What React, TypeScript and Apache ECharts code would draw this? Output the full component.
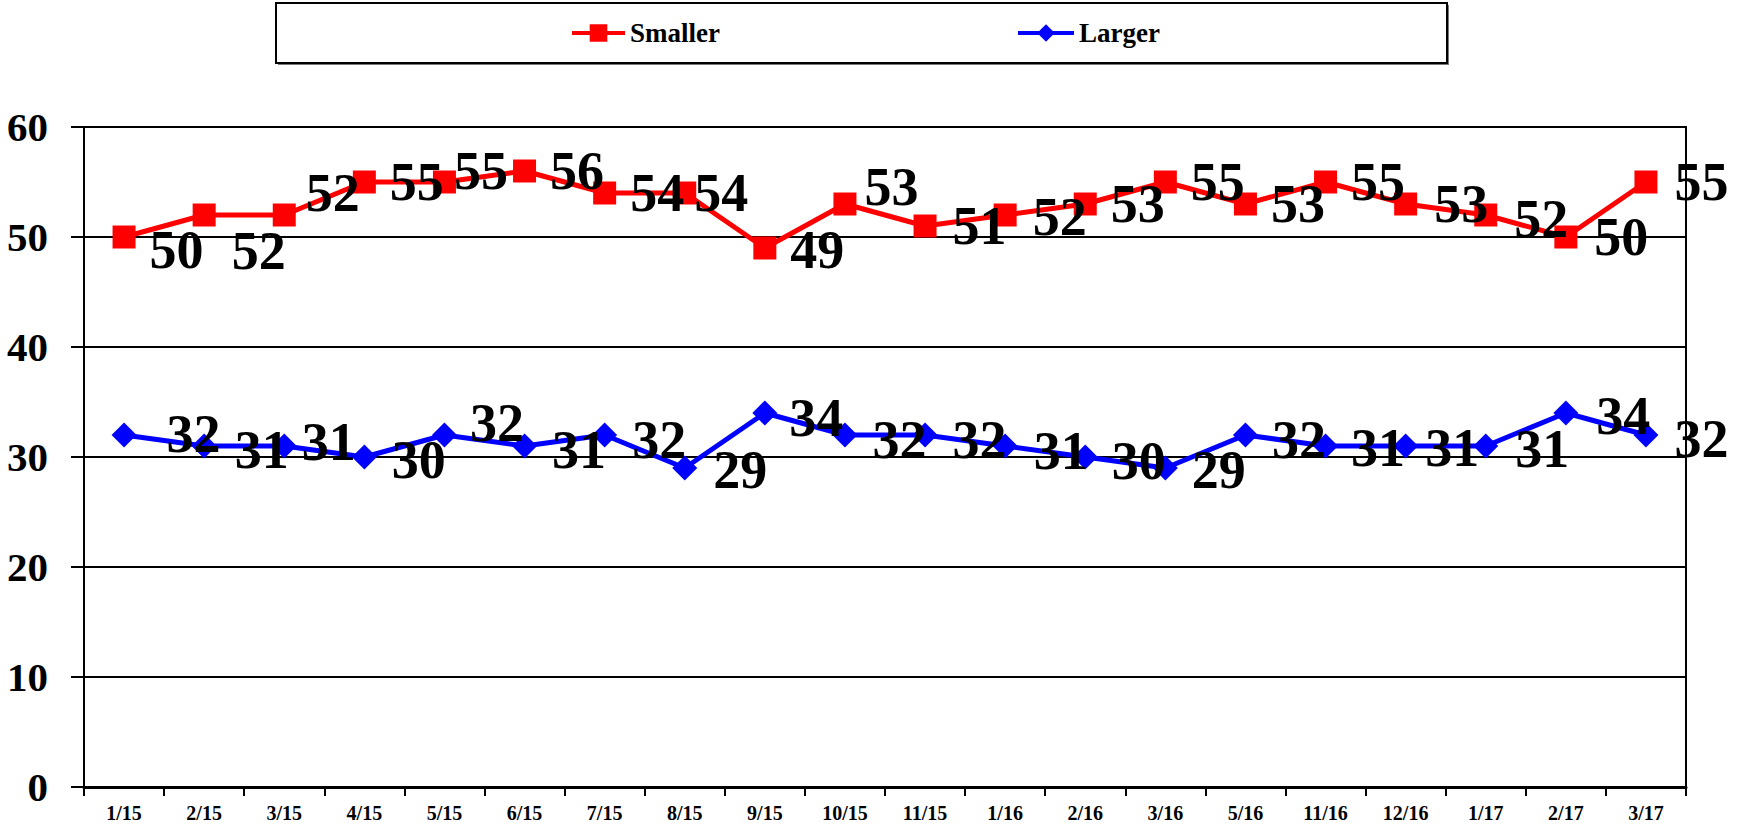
import React, { useEffect, useRef } from 'react';
import * as echarts from 'echarts';

const categories = ['1/15', '2/15', '3/15', '4/15', '5/15', '6/15', '7/15', '8/15', '9/15', '10/15', '11/15', '1/16', '2/16', '3/16', '5/16', '11/16', '12/16', '1/17', '2/17', '3/17'];
const smallerValues = [50, 52, 52, 55, 55, 56, 54, 54, 49, 53, 51, 52, 53, 55, 53, 55, 53, 52, 50, 55];
const largerValues = [32, 31, 31, 30, 32, 31, 32, 29, 34, 32, 32, 31, 30, 29, 32, 31, 31, 31, 34, 32];
const yMin = 0;
const yMax = 60;
const yStep = 10;

// per-point label nudges (layout only)
const smallerLabelShift = [[0, 13], [2, 36], [-4, -22], [0, 0], [-16, -11], [0, 0], [0, 0], [-16, 0], [0, 2], [-6, -17], [2, 0], [2, 2], [0, 0], [0, 0], [0, 0], [0, 0], [3, 0], [3, 4], [3, 0], [3, 0]];
const largerLabelShift = [[16, -1], [4, 4], [-9, -4], [1, 3], [-1, -12], [1, 4], [1, 5], [2, 2], [-2, 5], [1, 5], [1, 5], [2, 5], [0, 4], [0, 2], [0, 5], [-1, 2], [-7, 2], [3, 3], [4, 3], [2, 4]];

const FONT = '"Liberation Serif", "Times New Roman", serif';

export default function App() {
  const ref = useRef<HTMLDivElement>(null);
  useEffect(() => {
    if (!ref.current) return;
    const chart = echarts.init(ref.current, null, { renderer: 'svg' });
    const labelBase = {
      show: true,
      position: 'right',
      distance: 14,
      color: '#000',
      fontFamily: FONT,
      fontWeight: 'bold',
      fontSize: 54,
    };
    const legendText = { fontFamily: FONT, fontWeight: 'bold', fontSize: 27, color: '#000', lineHeight: 30 };
    const option: any = {
      animation: false,
      backgroundColor: '#fff',
      graphic: [
        { type: 'rect', shape: { x: 278, y: 5, width: 1171, height: 60 }, style: { fill: '#777' }, z: -2 },
        { type: 'rect', shape: { x: 276, y: 3, width: 1171, height: 60 }, style: { fill: '#fff', stroke: '#000', lineWidth: 2 }, z: -1 },
      ],
      legend: [
        {
          data: ['Smaller'], left: 570, top: 18, padding: 0, itemWidth: 53, itemHeight: 22, itemGap: 0,
          lineStyle: { width: 4 }, textStyle: legendText,
        },
        {
          data: ['Larger'], left: 1016, top: 18, padding: 0, itemWidth: 56, itemHeight: 22, itemGap: 0,
          lineStyle: { width: 4 }, textStyle: legendText,
        },
      ],
      grid: {
        left: 84, right: 53, top: 127, bottom: 41,
        show: true, borderColor: '#000', borderWidth: 2,
        containLabel: false, outerBoundsMode: 'none',
      },
      xAxis: {
        type: 'category',
        data: categories,
        boundaryGap: true,
        axisLine: { show: true, lineStyle: { color: '#000', width: 3 } },
        axisTick: { show: true, inside: false, length: 9, alignWithLabel: false, lineStyle: { color: '#000', width: 2 } },
        axisLabel: { color: '#000', fontFamily: FONT, fontWeight: 'bold', fontSize: 20, margin: 16, interval: 0 },
        splitLine: { show: false },
      },
      yAxis: {
        type: 'value',
        min: yMin, max: yMax, interval: yStep,
        axisLine: { show: true, lineStyle: { color: '#000', width: 2 } },
        axisTick: { show: true, length: 13, lineStyle: { color: '#000', width: 2 } },
        axisLabel: { color: '#000', fontFamily: FONT, fontWeight: 'bold', fontSize: 41, margin: 36 },
        splitLine: { show: true, lineStyle: { color: '#000', width: 2 } },
      },
      series: [
        {
          name: 'Smaller',
          type: 'line',
          symbol: 'rect',
          symbolSize: 23,
          color: '#ff0000',
          lineStyle: { color: '#ff0000', width: 5 },
          itemStyle: { color: '#ff0000' },
          label: labelBase,
          data: smallerValues.map((v, i) => ({ value: v, label: { offset: smallerLabelShift[i] } })),
          z: 3,
        },
        {
          name: 'Larger',
          type: 'line',
          symbol: 'diamond',
          symbolSize: 25,
          color: '#0000ff',
          lineStyle: { color: '#0000ff', width: 5 },
          itemStyle: { color: '#0000ff' },
          label: labelBase,
          data: largerValues.map((v, i) => ({ value: v, label: { offset: largerLabelShift[i] } })),
          z: 3,
        },
      ],
    };
    chart.setOption(option);
    return () => chart.dispose();
  }, []);
  return (
    <div
      ref={ref}
      style={{ position: 'fixed', left: 0, top: 0, width: 1739, height: 828, background: '#fff' }}
    />
  );
}
